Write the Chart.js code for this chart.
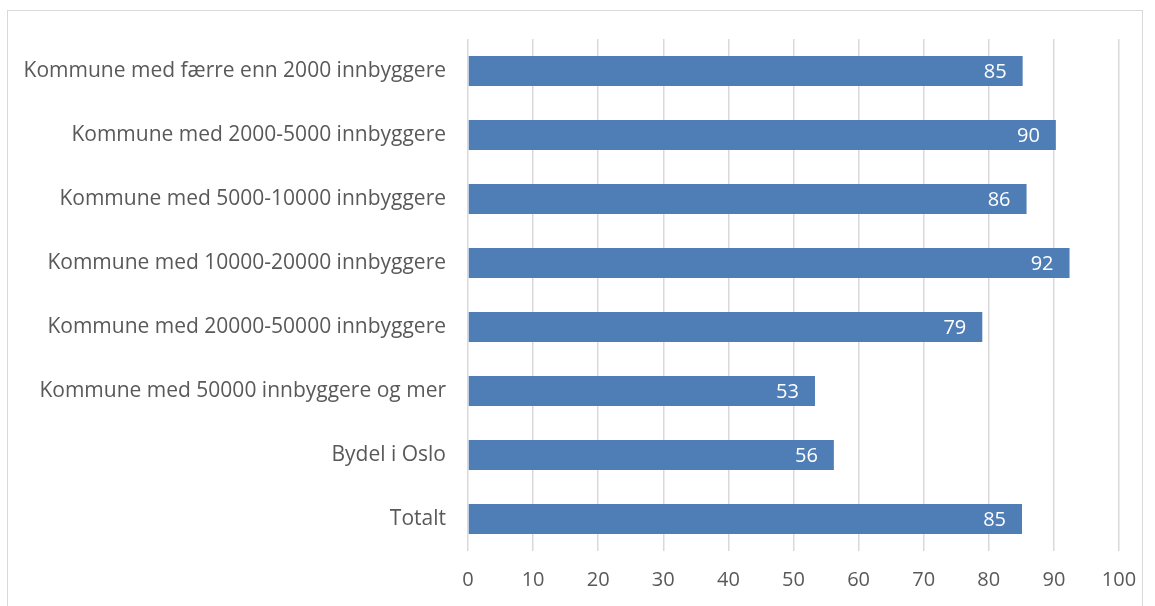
<!DOCTYPE html>
<html lang="no">
<head>
    <meta charset="UTF-8">
    <title>chart</title>
    <style>
        html, body { margin: 0; padding: 0; background: #fff; }
        #wrap { position: relative; width: 1155px; height: 606px; }
        #frame { position: absolute; left: 7px; top: 10px; width: 1136px; height: 600px; border: 1px solid #d9d9d9; box-sizing: border-box; }
        canvas { position: absolute; left: 0; top: 0; }
    </style>
</head>
<body>
    <div id="wrap">
        <div id="frame"></div>
        <canvas id="myChart" width="1155" height="606"></canvas>
    </div>

    <script src="https://cdn.jsdelivr.net/npm/chart.js"></script>
    <script>
const categories = [
    'Kommune med færre enn 2000 innbyggere',
    'Kommune med 2000-5000 innbyggere',
    'Kommune med 5000-10000 innbyggere',
    'Kommune med 10000-20000 innbyggere',
    'Kommune med 20000-50000 innbyggere',
    'Kommune med 50000 innbyggere og mer',
    'Bydel i Oslo',
    'Totalt'
]
const values = [85.2, 90.3, 85.8, 92.4, 79.0, 53.3, 56.2, 85.1]
const xTicks = [0, 10, 20, 30, 40, 50, 60, 70, 80, 90, 100]

const textColor = '#595959'
const fontFamily = '"Open Sans", sans-serif'

// labels inside the end of each bar
const barLabels = {
    id: 'barLabels',
    afterDatasetsDraw(chart) {
        const ctx = chart.ctx
        const meta = chart.getDatasetMeta(0)
        ctx.save()
        ctx.fillStyle = '#ffffff'
        ctx.font = '20px ' + fontFamily
        ctx.textAlign = 'right'
        ctx.textBaseline = 'middle'
        meta.data.forEach((bar, i) => {
            ctx.fillText(Math.round(values[i]), bar.x - 16, bar.y + 1)
        })
        ctx.restore()
    }
}

new Chart(document.getElementById('myChart'), {
    type: 'bar',
    data: {
        labels: categories,
        datasets: [{
            data: values,
            backgroundColor: '#4f7db5',
            borderWidth: 0,
            barPercentage: 0.47,
            categoryPercentage: 1
        }]
    },
    options: {
        indexAxis: 'y',
        responsive: false,
        animation: false,
        layout: { padding: { left: 0, top: 39, right: 36, bottom: 6 } },
        plugins: {
            legend: { display: false },
            tooltip: { enabled: false }
        },
        scales: {
            x: {
                min: 0,
                max: 100,
                afterBuildTicks(scale) {
                    scale.ticks = xTicks.map(v => ({ value: v }))
                },
                afterFit(scale) { scale.height = 49 },
                grid: { color: '#d9d9d9', lineWidth: 1.5, drawTicks: false },
                border: { display: false },
                ticks: { color: textColor, font: { family: fontFamily, size: 20 }, padding: 17 }
            },
            y: {
                afterFit(scale) { scale.width = 468 },
                grid: { display: false },
                border: { display: false },
                ticks: { color: textColor, font: { family: fontFamily, size: 21 }, padding: 14 }
            }
        }
    },
    plugins: [barLabels]
})
    </script>
</body>
</html>
